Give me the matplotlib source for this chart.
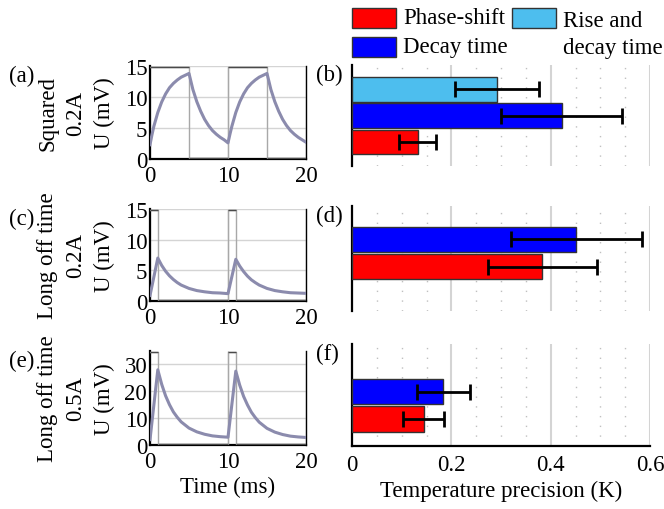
import numpy as np
import matplotlib
matplotlib.use("Agg")
import matplotlib.pyplot as plt
from matplotlib.patches import Rectangle
from matplotlib.ticker import MultipleLocator, FuncFormatter

plt.rcParams["font.family"] = "serif"
plt.rcParams["font.serif"] = ["Liberation Serif", "DejaVu Serif"]
plt.rcParams["font.size"] = 16.5

# ---------------------------------------------------------------------------
# Data
# ---------------------------------------------------------------------------
# (a) squared excitation, 0.2 A: one trace sample every 0.5 ms
t_sq = [0, 0.25, 0.5, 1, 1.5, 2, 2.5, 3, 3.5, 4, 4.5, 5,
        5.5, 6, 6.5, 7, 7.5, 8, 8.5, 9, 9.5, 10,
        10.25, 10.5, 11, 11.5, 12, 12.5, 13, 13.5, 14, 14.5, 15,
        15.5, 16, 16.5, 17, 17.5, 18, 18.5, 19, 19.5, 20]
u_sq = [2.3, 3.9, 5.3, 7.5, 9.2, 10.5, 11.5, 12.2, 12.75, 13.2, 13.5, 13.8,
        11.2, 9.25, 7.7, 6.4, 5.4, 4.6, 4.0, 3.5, 3.1, 2.6,
        4.0, 5.3, 7.5, 9.2, 10.5, 11.5, 12.2, 12.75, 13.2, 13.5, 13.8,
        11.2, 9.25, 7.7, 6.4, 5.4, 4.6, 4.0, 3.5, 3.1, 2.7]
ref_sq_t = [0, 5, 10, 15, 20]
ref_sq_u = [14.8, 0.2, 14.8, 0.2, 0.2]

# (c) long off time, 0.2 A
t_lo = [0, 1, 1.5, 2, 2.5, 3, 3.5, 4, 5, 6, 7, 8, 9, 10,
        11, 11.5, 12, 12.5, 13, 13.5, 14, 15, 16, 17, 18, 19, 20]
u_lo2 = [0.9, 7.0, 5.8, 4.85, 4.1, 3.5, 3.0, 2.6, 2.05, 1.7, 1.5, 1.35, 1.3, 1.2,
         6.8, 5.7, 4.8, 4.05, 3.45, 3.0, 2.6, 2.05, 1.7, 1.5, 1.35, 1.3, 1.25]
ref_lo2_u = [14.8, 0.2, 14.8, 0.2, 0.2]

# (e) long off time, 0.5 A
u_lo5 = [2.0, 28.0, 22.6, 18.3, 15.0, 12.3, 10.3, 8.6, 6.3, 4.9, 4.0, 3.4, 3.1, 2.9,
         27.5, 22.3, 18.1, 14.9, 12.2, 10.2, 8.5, 6.2, 4.8, 3.9, 3.3, 3.0, 2.8]
ref_lo5_u = [34.5, 0.5, 34.5, 0.5, 0.5]
ref_lo_t = [0, 1, 10, 11, 20]

# Temperature precision (K): value and error half-width
methods = ["Phase-shift", "Decay time", "Rise and\ndecay time"]
prec_b = [0.132, 0.422, 0.292]
err_b = [0.038, 0.122, 0.085]
prec_d = [0.383, 0.452]
err_d = [0.110, 0.131]
prec_f = [0.144, 0.184]
err_f = [0.042, 0.053]

# ---------------------------------------------------------------------------
# Style
# ---------------------------------------------------------------------------
BAR_COLORS = ["#ff0000", "#0000ff", "#4dbeee"]
TRACE_C = "#8b8bad"
REF_C = "#4a4a4a"
REF_EDGE_C = "#a8a8a8"
GRID_C = "#d4d4d4"

W, H = 664, 510
fig = plt.figure(figsize=(W / 100, H / 100), dpi=100)


def px_axes(x0, y0, x1, y1):
    return fig.add_axes([x0 / W, 1 - y1 / H, (x1 - x0) / W, (y1 - y0) / H])


def signal_panel(box, t, u, rt, ru, ymax, yticks, label, letter, xlabel=None):
    ax = px_axes(*box)
    # reference square wave: light vertical edges, dark flat levels
    ax.step(rt, ru, where="post", color=REF_EDGE_C, lw=1.0, zorder=3)
    ax.hlines(ru[:-1], rt[:-1], rt[1:], color=REF_C, lw=1.0, zorder=3)
    ax.plot(t, u, color=TRACE_C, lw=2.2, solid_joinstyle="round", zorder=4)
    ax.set_xlim(0, 20)
    ax.set_ylim(0, ymax)
    ax.set_xticks([0, 10, 20])
    ax.set_yticks(yticks)
    ax.grid(True, color=GRID_C, lw=1.0)
    ax.set_axisbelow(True)
    ax.tick_params(axis="y", length=0, pad=2)
    ax.tick_params(axis="x", length=0, pad=4)
    ax.spines["top"].set_visible(False)
    for s in ["left", "bottom"]:
        ax.spines[s].set_linewidth(1.6)
    ax.spines["right"].set_linewidth(1.0)
    ax.set_ylabel(label, linespacing=1.45, labelpad=7)
    if xlabel:
        ax.set_xlabel(xlabel, labelpad=3)
    fig.text(9 / W, 1 - (box[1] + 9) / H, letter, ha="left", va="center")
    return ax


def bar_panel(box, vals, errs, ylim, height, letter, bottom=False):
    ax = px_axes(*box)
    pos = np.arange(1, len(vals) + 1)
    ax.barh(pos, vals, height=height, color=BAR_COLORS[:len(vals)],
            edgecolor="#333333", lw=1.0, zorder=3)
    ax.errorbar(vals, pos, xerr=errs, fmt="none", ecolor="black",
                elinewidth=2.0, capsize=6, capthick=2.0, zorder=4)
    ax.set_xlim(0, 0.6)
    ax.set_ylim(*ylim)
    ax.xaxis.set_major_locator(MultipleLocator(0.2))
    ax.xaxis.set_minor_locator(MultipleLocator(0.05))
    ax.grid(True, which="major", axis="x", color=GRID_C, lw=1.5)
    ax.grid(True, which="minor", axis="x", color="#c0c0c0", lw=1.0,
            linestyle=(0, (1, 6)))
    ax.set_axisbelow(True)
    ax.set_yticks([])
    ax.tick_params(which="both", length=0, pad=6)
    ax.xaxis.set_major_formatter(FuncFormatter(
        lambda v, p: "0" if v == 0 else f"{v:.1f}"))
    for s in ["top", "right"]:
        ax.spines[s].set_visible(False)
    ax.spines["left"].set_linewidth(1.6)
    if bottom:
        ax.spines["bottom"].set_linewidth(1.6)
        ax.set_xlabel("Temperature precision (K)", labelpad=3)
    else:
        ax.spines["bottom"].set_visible(False)
        ax.set_xticklabels([])
    fig.text(316 / W, 1 - (box[1] + 9) / H, letter, ha="left", va="center")
    return ax


# ---------------------------------------------------------------------------
# Left column: measured signals
# ---------------------------------------------------------------------------
signal_panel((150, 67, 306, 160), t_sq, u_sq, ref_sq_t, ref_sq_u, 15,
             [0, 5, 10, 15], "Squared\n0.2A\nU (mV)", "(a)")
signal_panel((150, 210, 306, 302), t_lo, u_lo2, ref_lo_t, ref_lo2_u, 15,
             [0, 5, 10, 15], "Long off time\n0.2A\nU (mV)", "(c)")
signal_panel((150, 352, 306, 446), t_lo, u_lo5, ref_lo_t, ref_lo5_u, 35,
             [0, 10, 20, 30], "Long off time\n0.5A\nU (mV)", "(e)",
             xlabel="Time (ms)")

# ---------------------------------------------------------------------------
# Right column: temperature precision
# ---------------------------------------------------------------------------
bar_panel((352, 66, 650, 167), prec_b, err_b, (0.086, 3.93), 0.95, "(b)")
bar_panel((352, 207, 650, 312), prec_d, err_d, (-0.6, 3.21), 0.91, "(d)")
bar_panel((352, 345, 650, 447), prec_f, err_f, (0.015, 3.74), 0.92, "(f)",
          bottom=True)

# Legend drawn by hand (two columns, handles aligned to first text line)
leg_items = [(352, 9, 0), (352, 38, 1), (512, 9, 2)]
for x, y, i in leg_items:
    fig.patches.append(Rectangle((x / W, 1 - (y + 20) / H), 44 / W, 20 / H,
                                 transform=fig.transFigure, facecolor=BAR_COLORS[i],
                                 edgecolor="#333333", lw=1.0))
    if i == 2:
        fig.text((x + 51) / W, 1 - 11 / H, methods[i], ha="left", va="top",
                 linespacing=1.4)
    else:
        fig.text((x + 51) / W, 1 - (y + 10) / H, methods[i], ha="left",
                 va="center")

plt.savefig("out.png", dpi=100)
